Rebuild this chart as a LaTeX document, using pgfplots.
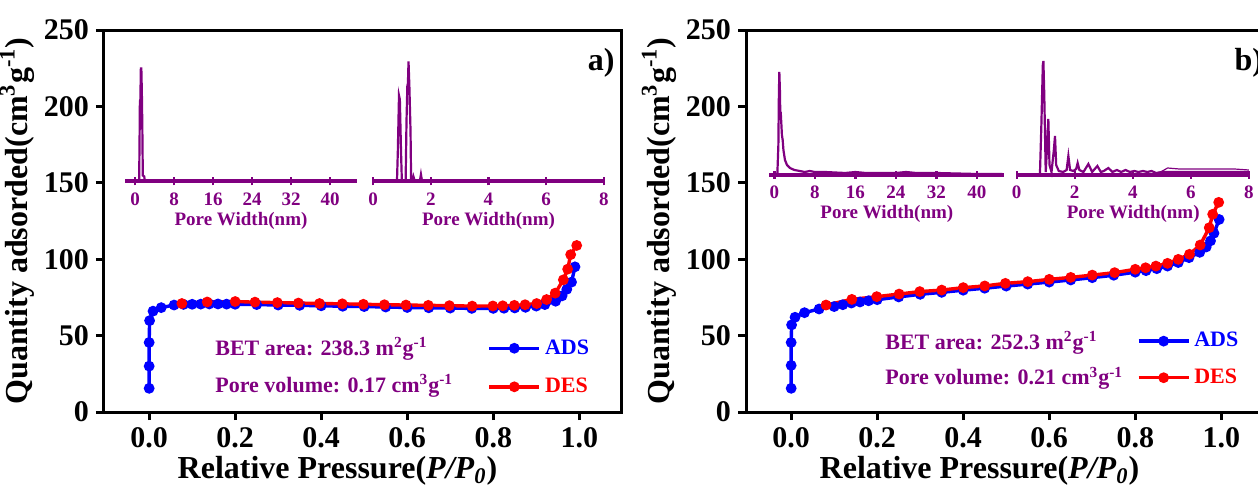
\documentclass[border=0pt]{standalone}
\usepackage{fontspec}
\setmainfont{Liberation Serif}
\usepackage{pgfplots}
\pgfplotsset{compat=1.18}
\definecolor{purp}{RGB}{128,0,128}
\pgfplotsset{
 mainax/.style={
  scale only axis, width=258.5pt, height=191pt,
  xmin=-0.105, xmax=1.097, ymin=0, ymax=250,
  xtick={0,0.2,0.4,0.6,0.8,1.0}, ytick={0,50,100,150,200,250},
  tick pos=left, tick align=outside, major tick length=4pt,
  axis line style={line width=1.5pt},
  major tick style={line width=1.5pt, black},
  minor tick num=0,
  ticklabel style={font=\fontsize{15}{15}\selectfont\bfseries},
  /pgf/number format/assume math mode=true,
  xticklabel style={/pgf/number format/.cd, fixed, fixed zerofill, precision=1},
  label style={font=\fontsize{16}{16}\selectfont\bfseries},
  xlabel={Relative Pressure(\textit{P/P}\textsubscript{\textit{0}})},
  xlabel style={xshift=-12.5pt, yshift=2.5pt},
  ylabel={Quantity adsorded(cm\textsuperscript{3}g\textsuperscript{-1})},
  ylabel style={yshift=-2pt},
  legend style={draw=none, fill=none, font=\fontsize{11}{11}\selectfont\bfseries, inner sep=0pt},
  legend cell align=left,
  legend image code/.code={\draw[mark repeat=2,mark phase=2] plot coordinates {(0pt,0pt) (12.5pt,0pt) (25pt,0pt)};},
 },
 ads/.style={blue, line width=1.7pt, mark=*, mark size=1.8pt, mark options={solid, fill=blue}},
 des/.style={red, line width=1.7pt, mark=*, mark size=1.8pt, mark options={solid, fill=red}},
 inset/.style={
  scale only axis, height=65pt, ymin=0, ymax=130,
  axis x line=bottom, axis y line=none,
  x axis line style={-, line width=2pt, draw=purp},
  tick align=center, major tick length=4pt,
  major tick style={line width=1.2pt, purp},
  minor tick num=0,
  ticklabel style={font=\fontsize{9.5}{9.5}\selectfont\bfseries, text=purp},
  /pgf/number format/assume math mode=true,
  xlabel={Pore Width(nm)},
  xlabel style={font=\fontsize{9.5}{9.5}\selectfont\bfseries, text=purp, yshift=3.5pt},
  clip=false,
 },
 pd/.style={purp, line width=1.1pt},
}
\begin{document}
\begin{tikzpicture}
\useasboundingbox (0,0) rectangle (629pt,243.5pt);
% ---------------- left panel ----------------
\begin{axis}[mainax, at={(52pt,37.5pt)}, anchor=south west,
  legend style={at={(axis cs:0.786,29.1)}, anchor=west, row sep=6.5pt}]
\addplot[ads] coordinates {(0,15.5)(0,30)(0,45.5)(0.001,59.8)(0.009,66)(0.028,68.3)(0.058,70)(0.08,70.4)(0.1,70.5)(0.12,70.6)(0.14,70.7)(0.16,70.7)(0.18,70.6)(0.2,70.5)(0.25,70.3)(0.3,70)(0.35,69.8)(0.4,69.5)(0.45,69.2)(0.5,69)(0.55,68.7)(0.6,68.4)(0.65,68.2)(0.7,68)(0.75,67.8)(0.8,67.8)(0.825,67.9)(0.85,68.1)(0.875,68.5)(0.9,69.3)(0.92,70.3)(0.945,72.5)(0.96,76)(0.971,80.3)(0.982,85)(0.99,95)};
\addlegendentry{\textcolor{blue}{ADS}}
\addplot[des] coordinates {(0.076,71)(0.135,72)(0.2,72.3)(0.246,71.9)(0.298,71.6)(0.347,71.3)(0.396,71)(0.449,70.8)(0.498,70.5)(0.547,70.2)(0.597,70)(0.649,69.8)(0.698,69.6)(0.751,69.3)(0.799,69.4)(0.822,69.5)(0.849,69.8)(0.874,70.2)(0.901,71)(0.924,73.6)(0.944,77.8)(0.963,86.5)(0.973,93.5)(0.98,103)(0.994,109)};
\addlegendentry{\textcolor{red}{DES}}
\node[anchor=base west, font=\fontsize{11}{11}\selectfont\bfseries, text=purp, inner sep=0pt] at (axis cs:0.153,37.3) {BET area: 238.3 m\textsuperscript{2}g\textsuperscript{-1}};
\node[anchor=base west, font=\fontsize{11}{11}\selectfont\bfseries, text=purp, inner sep=0pt] at (axis cs:0.153,12.6) {Pore volume: 0.17 cm\textsuperscript{3}g\textsuperscript{-1}};
\node[anchor=base east, font=\fontsize{16}{16}\selectfont\bfseries, inner sep=0pt] at (axis cs:1.083,223.8) {a)};
\end{axis}
\begin{axis}[inset, at={(62.5pt,152.75pt)}, anchor=south west, width=116pt,
  xmin=-2.05, xmax=45.5, xtick={0,8,16,24,32,40}]
\addplot[pd] coordinates {(0,0)(0.85,0)(0.95,50)(1.0,80)(1.1,82)(1.2,113)(1.3,113)(1.4,90)(1.5,55)(1.6,6)(1.9,5)(2.0,0)(45,0)};
\end{axis}
\begin{axis}[inset, at={(186.5pt,152.75pt)}, anchor=south west, width=115.5pt,
  xmin=0, xmax=8, xtick={0,2,4,6,8}]
\addplot[pd] coordinates {(0,0)(0.83,0)(0.86,30)(0.9,86)(0.93,82)(0.97,30)(1.0,0)(1.13,0)(1.16,60)(1.19,96)(1.21,98)(1.23,120)(1.26,95)(1.3,50)(1.32,0)(1.36,0)(1.4,5)(1.45,0)(1.62,0)(1.66,7)(1.7,0)(8,0)};
\end{axis}
% ---------------- right panel ----------------
\begin{axis}[mainax, at={(373pt,37.5pt)}, anchor=south west,
  legend style={at={(axis cs:0.803,34.4)}, anchor=west, row sep=5.5pt}]
\addplot[ads] coordinates {(0,15.5)(0,30.5)(0,45.5)(0.001,57)(0.009,62)(0.031,65)(0.065,67.4)(0.1,69)(0.12,70.2)(0.14,71.3)(0.16,72)(0.18,72.8)(0.2,73.5)(0.25,75.3)(0.3,77)(0.35,78.3)(0.4,79.7)(0.45,81)(0.5,82.4)(0.55,83.7)(0.6,85)(0.65,86.4)(0.7,87.9)(0.75,89.5)(0.8,91.5)(0.825,92.5)(0.85,93.8)(0.875,95.5)(0.9,97.8)(0.925,101)(0.95,104.5)(0.965,108)(0.975,112)(0.983,117)(0.995,126)};
\addlegendentry{\textcolor{blue}{ADS}}
\addplot[des] coordinates {(0.081,70)(0.141,73.7)(0.199,75.5)(0.251,77.2)(0.299,78.8)(0.35,79.8)(0.40,81.4)(0.45,82.5)(0.498,84.2)(0.55,85.3)(0.6,86.8)(0.65,88.1)(0.70,89.6)(0.752,91.2)(0.80,93.4)(0.824,94.4)(0.848,95.5)(0.875,97.3)(0.90,99.9)(0.926,103.2)(0.951,109.3)(0.972,120.6)(0.98,129.4)(0.994,137.2)};
\addlegendentry{\textcolor{red}{DES}}
\node[anchor=base west, font=\fontsize{11}{11}\selectfont\bfseries, text=purp, inner sep=0pt] at (axis cs:0.218,41) {BET area: 252.3 m\textsuperscript{2}g\textsuperscript{-1}};
\node[anchor=base west, font=\fontsize{11}{11}\selectfont\bfseries, text=purp, inner sep=0pt] at (axis cs:0.218,17.7) {Pore volume: 0.21 cm\textsuperscript{3}g\textsuperscript{-1}};
\node[anchor=base west, font=\fontsize{16}{16}\selectfont\bfseries, inner sep=0pt] at (axis cs:1.03,223.8) {b)};
\end{axis}
\begin{axis}[inset, at={(384.65pt,156pt)}, anchor=south west, width=117.5pt,
  xmin=-0.99, xmax=45.4, xtick={0,8,16,24,32,40}]
\addplot[pd] coordinates {(0,1)(0.6,1)(0.8,30)(0.9,80)(0.99,103)(1.1,85)(1.2,55)(1.26,63)(1.4,50)(1.5,40)(1.65,35)(1.8,25)(2.1,15)(2.5,10)(3.1,7)(3.5,6)(4,5)(5,4)(6,3)(7,4)(8,3)(10,3)(12,2.5)(14,2)(16,3)(18,2)(20,2)(24,2)(26,3)(28,2)(32,2)(36,1.5)(40,1)(45,1)};
\end{axis}
\begin{axis}[inset, at={(508.35pt,156pt)}, anchor=south west, width=116.5pt,
  xmin=0, xmax=8.03, xtick={0,2,4,6,8}]
\addplot[pd] coordinates {(0,0)(0.8,0)(0.85,50)(0.9,110)(0.92,114)(0.95,80)(1.0,3)(1.05,30)(1.09,56)(1.13,10)(1.2,3)(1.28,25)(1.32,39)(1.36,10)(1.45,4)(1.6,3)(1.72,5)(1.78,19)(1.84,5)(1.95,4)(2.05,6)(2.1,12)(2.16,5)(2.3,3)(2.47,11)(2.6,3)(2.78,9)(2.9,3)(3.0,4)(3.16,7)(3.3,3)(3.45,5)(3.6,3)(3.75,5)(3.9,3)(4.05,4)(4.2,3)(4.35,4)(4.5,3)(4.65,4)(4.8,2)(5.0,3)(5.5,3)(6,3)(7,3)(8,3)};
\addplot[purp, line width=0.6pt] coordinates {(4.9,2)(5.2,7)(5.6,6)(6,6)(6.5,6)(7,6)(7.5,6)(8,5)};
\end{axis}
\end{tikzpicture}
\end{document}
